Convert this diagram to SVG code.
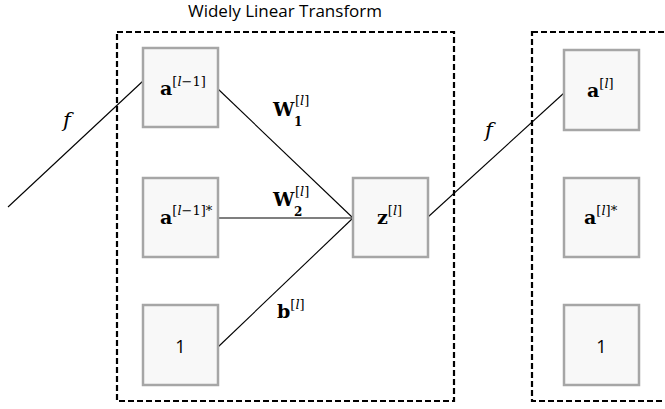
<svg xmlns="http://www.w3.org/2000/svg" width="665" height="409" viewBox="0 0 665 409">
<style>
.frame{fill:none;stroke:#000;stroke-width:2.2;stroke-dasharray:6,3}
.box{fill:#f8f8f8;stroke:#a6a6a6;stroke-width:2.5}
.con{stroke:#000;stroke-width:1.1;fill:none}
.title{font-family:"Open Sans","Liberation Sans",sans-serif;font-size:17px;fill:#000}
.m{font-family:"DejaVu Serif","Liberation Serif",serif;fill:#000}
.b{font-weight:bold;font-size:19px}
.sup{font-size:13px}
.sub{font-size:12px;font-weight:bold}
.it{font-style:italic}
.num{font-family:"Open Sans","Liberation Sans",sans-serif;font-size:18px;fill:#000}
</style>
<rect width="665" height="409" fill="#fff"/>
<text class="title" x="285" y="17" text-anchor="middle">Widely Linear Transform</text>
<g id="frame-left"><rect class="frame" x="117" y="32" width="337" height="369"/></g>
<g id="frame-right"><rect class="frame" x="532" y="32" width="200" height="369"/></g>
<g id="connectors">
<line class="con" x1="8" y1="207" x2="143" y2="81"/>
<line class="con" x1="218" y1="89" x2="353" y2="218"/>
<line class="con" x1="218" y1="218" x2="353" y2="218"/>
<line class="con" x1="218" y1="347" x2="353" y2="218"/>
<line class="con" x1="428" y1="217" x2="564" y2="93"/>
</g>
<g id="labels">
<text class="m it" x="63" y="127" font-size="21">f</text>
<text class="m it" x="485" y="137" font-size="21">f</text>
<text class="m" x="273" y="116"><tspan class="b">W</tspan><tspan class="sub" x="294" y="126">1</tspan><tspan class="sup" x="295" y="105">[<tspan class="it">l</tspan>]</tspan></text>
<text class="m" x="273" y="206"><tspan class="b">W</tspan><tspan class="sub" x="294" y="216">2</tspan><tspan class="sup" x="295" y="196">[<tspan class="it">l</tspan>]</tspan></text>
<text class="m" x="277" y="318"><tspan class="b">b</tspan><tspan class="sup" dy="-9">[<tspan class="it">l</tspan>]</tspan></text>
</g>
<g id="n-a-prev"><rect class="box" x="143" y="48" width="75" height="79"/><text class="m" x="160" y="95"><tspan class="b">a</tspan><tspan class="sup" dy="-9">[<tspan class="it">l</tspan>−1]</tspan></text></g>
<g id="n-a-prev-conj"><rect class="box" x="143" y="178" width="75" height="79"/><text class="m" x="160" y="224"><tspan class="b">a</tspan><tspan class="sup" dy="-9">[<tspan class="it">l</tspan>−1]*</tspan></text></g>
<g id="n-one-left"><rect class="box" x="143" y="305" width="75" height="80"/><text class="num" x="180.5" y="353" text-anchor="middle">1</text></g>
<g id="n-z"><rect class="box" x="353" y="178" width="75" height="79"/><text class="m" x="377" y="224"><tspan class="b">z</tspan><tspan class="sup" dy="-9">[<tspan class="it">l</tspan>]</tspan></text></g>
<g id="n-a"><rect class="box" x="564" y="50" width="75" height="80"/><text class="m" x="587" y="97"><tspan class="b">a</tspan><tspan class="sup" dy="-9">[<tspan class="it">l</tspan>]</tspan></text></g>
<g id="n-a-conj"><rect class="box" x="564" y="178" width="75" height="79"/><text class="m" x="584" y="224"><tspan class="b">a</tspan><tspan class="sup" dy="-9">[<tspan class="it">l</tspan>]*</tspan></text></g>
<g id="n-one-right"><rect class="box" x="564" y="305" width="75" height="80"/><text class="num" x="601.5" y="353" text-anchor="middle">1</text></g>
</svg>
